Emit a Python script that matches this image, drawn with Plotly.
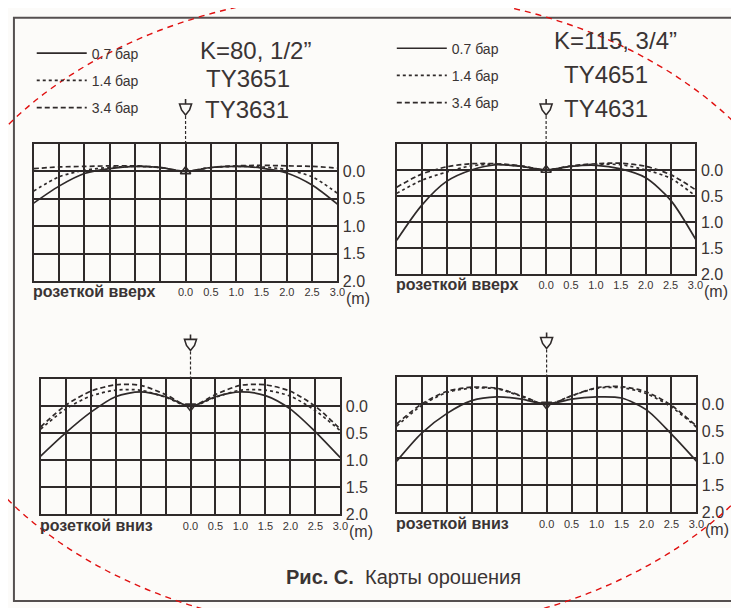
import plotly.graph_objects as go

# ---------------- data ----------------
x_m = [-3.0, -2.5, -2.0, -1.5, -1.0, -0.5, 0.0, 0.5, 1.0, 1.5, 2.0, 2.5, 3.0]
pressure_labels = ["0.7 бар", "1.4 бар", "3.4 бар"]

# K=80 upright (TY3651) – drop below deflector, m
ty3651_07 = [0.58, 0.27, 0.04, -0.05, -0.09, -0.07, 0.0, -0.07, -0.09, -0.06, 0.03, 0.25, 0.60]
ty3651_14 = [0.36, 0.10, -0.02, -0.07, -0.09, -0.07, 0.0, -0.07, -0.09, -0.08, -0.03, 0.10, 0.40]
ty3651_34 = [-0.05, -0.08, -0.09, -0.10, -0.10, -0.07, 0.0, -0.07, -0.10, -0.11, -0.10, -0.09, -0.06]

# K=115 upright (TY4651)
ty4651_07 = [1.35, 0.68, 0.22, 0.00, -0.10, -0.07, 0.0, -0.07, -0.09, -0.02, 0.15, 0.58, 1.33]
ty4651_14 = [0.45, 0.20, 0.04, -0.08, -0.11, -0.07, 0.0, -0.07, -0.11, -0.10, 0.00, 0.16, 0.50]
ty4651_34 = [0.33, 0.08, -0.06, -0.12, -0.12, -0.08, 0.0, -0.08, -0.12, -0.13, -0.07, 0.09, 0.38]

# K=80 pendent (TY3631)
ty3631_07 = [0.92, 0.49, 0.11, -0.18, -0.27, -0.18, 0.0, -0.18, -0.27, -0.20, 0.05, 0.47, 0.95]
ty3631_14 = [0.42, 0.05, -0.19, -0.30, -0.30, -0.17, 0.0, -0.17, -0.30, -0.30, -0.19, 0.08, 0.45]
ty3631_34 = [0.38, -0.02, -0.28, -0.40, -0.39, -0.22, 0.0, -0.22, -0.39, -0.40, -0.28, 0.00, 0.42]

# K=115 pendent (TY4631)
ty4631_07 = [1.05, 0.53, 0.17, -0.07, -0.14, -0.10, 0.0, -0.10, -0.14, -0.12, 0.10, 0.55, 1.05]
ty4631_14 = [0.40, 0.02, -0.22, -0.30, -0.29, -0.15, 0.0, -0.16, -0.30, -0.31, -0.20, 0.05, 0.42]
ty4631_34 = [0.36, -0.01, -0.24, -0.32, -0.30, -0.16, 0.0, -0.16, -0.31, -0.33, -0.23, 0.02, 0.40]

deflector_x = [0.0]
deflector_y = [0.0]

x_tickvals = [-3.0, -2.5, -2.0, -1.5, -1.0, -0.5, 0.0, 0.5, 1.0, 1.5, 2.0, 2.5, 3.0]
x_ticktext = ["", "", "", "", "", "", "0.0", "0.5", "1.0", "1.5", "2.0", "2.5", "3.0"]
y_tickvals = [-0.5, 0.0, 0.5, 1.0, 1.5, 2.0]
y_ticktext = ["", "0.0", "0.5", "1.0", "1.5", "2.0"]

# ---------------- layout helpers ----------------
W, H = 739, 608
INK = "#2f2a2a"
TXT = "#3a3434"
SANS = "Liberation Sans, Arial, sans-serif"


def px_x(v):
    return v / W


def px_y(v):
    return 1 - v / H


panels = [
    dict(key="", dom_x=(26, 333), dom_y=(138, 277), series=[ty3651_07, ty3651_14, ty3651_34],
         legend="legend", label="розеткой вверх", up=True),
    dict(key="2", dom_x=(393, 695), dom_y=(138, 270), series=[ty4651_07, ty4651_14, ty4651_34],
         legend="legend2", label="розеткой вверх", up=True),
    dict(key="3", dom_x=(33, 336), dom_y=(377, 514), series=[ty3631_07, ty3631_14, ty3631_34],
         legend=None, label="розеткой вниз", up=False),
    dict(key="4", dom_x=(393, 696), dom_y=(375, 512), series=[ty4631_07, ty4631_14, ty4631_34],
         legend=None, label="розеткой вниз", up=False),
]

dashes = ["solid", "dot", "5px,3px"]

fig = go.Figure()
layout = dict(
    width=W, height=H, autosize=False,
    margin=dict(l=0, r=0, t=0, b=0),
    paper_bgcolor="#fcfbf9", plot_bgcolor="#fcfbf9",
    showlegend=True,
    font=dict(family=SANS, color=TXT),
)
annotations = []
shapes = []

for p in panels:
    k = p["key"]
    xa = "x" + k
    ya = "y" + k
    for i, ys in enumerate(p["series"]):
        fig.add_trace(go.Scatter(
            x=x_m, y=ys, xaxis=xa, yaxis=ya, mode="lines",
            line=dict(color=INK, width=1.7, dash=dashes[i], shape="spline", smoothing=0.8),
            name=pressure_labels[i],
            showlegend=p["legend"] is not None,
            legend=p["legend"] if p["legend"] else "legend",
            legendgroup=f"g{k}{i}",
            hoverinfo="skip",
        ))
    fig.add_trace(go.Scatter(
        x=deflector_x, y=deflector_y, xaxis=xa, yaxis=ya, mode="markers",
        marker=dict(symbol="triangle-up-open" if p["up"] else "triangle-down-open",
                    size=9, color=INK, line=dict(width=1.6, color=INK)),
        showlegend=False, hoverinfo="skip",
    ))
    axis_common = dict(showgrid=True, gridcolor=INK, gridwidth=1.8, zeroline=False,
                       showline=True, mirror=True, linecolor=INK, linewidth=2.4,
                       ticks="", fixedrange=True)
    layout["xaxis" + k] = dict(
        axis_common, domain=[px_x(p["dom_x"][0]), px_x(p["dom_x"][1])],
        range=[-3, 3], tickmode="array", tickvals=x_tickvals, ticktext=x_ticktext,
        tickfont=dict(family=SANS, size=11, color=TXT), anchor=ya,
    )
    layout["yaxis" + k] = dict(
        axis_common, domain=[px_y(p["dom_y"][1]), px_y(p["dom_y"][0])],
        range=[2.0, -0.5], tickmode="array", tickvals=y_tickvals, ticktext=y_ticktext,
        side="right", tickfont=dict(family=SANS, size=16, color=TXT), anchor=xa,
    )
    # (m) unit
    annotations.append(dict(
        text="(m)", xref=xa + " domain", yref=ya + " domain", x=1, y=0,
        xanchor="left", yanchor="top", xshift=7, yshift=-7, showarrow=False,
        font=dict(family=SANS, size=16, color=TXT)))
    # under-label
    annotations.append(dict(
        text="<b>" + p["label"] + "</b>", xref="paper", yref="paper",
        x=px_x(p["dom_x"][0] - 3), y=px_y(p["dom_y"][1] + 11), xanchor="left", yanchor="middle",
        showarrow=False, font=dict(family=SANS, size=16, color=TXT)))
    # sprinkler icon + dashed stem above centre
    top = px_y(p["dom_y"][0])
    shapes.append(dict(type="line", xref=xa, yref="paper", xsizemode="pixel", ysizemode="pixel",
                       xanchor=0, yanchor=top, x0=0, x1=0, y0=0, y1=28,
                       line=dict(color=INK, width=1.2, dash="3px,2px")))
    shapes.append(dict(type="path", xref=xa, yref="paper", xsizemode="pixel", ysizemode="pixel",
                       xanchor=0, yanchor=top,
                       path="M0,45 L0,40 M-6,40 L6,40 L4,34 L0,29 L-4,34 Z",
                       line=dict(color=INK, width=1.6)))

# titles
title_font = dict(family=SANS, size=24, color=TXT)
for txt, cx, cy in [("K=80, 1/2”", 250, 43), ("TY3651", 243, 72), ("TY3631", 242, 103),
                    ("K=115, 3/4”", 614, 33), ("TY4651", 605, 67), ("TY4631", 605, 102)]:
    annotations.append(dict(text=txt, xref="paper", yref="paper", x=px_x(cx), y=px_y(cy),
                            xanchor="center", yanchor="middle", showarrow=False, font=title_font))

annotations.append(dict(text="<b>Рис. С.</b>  Карты орошения", xref="paper", yref="paper",
                        x=px_x(400), y=px_y(578), xanchor="center", yanchor="middle",
                        showarrow=False, font=dict(family=SANS, size=20, color=TXT)))

# outer frame and the red dashed ellipse seen on the reference
shapes.append(dict(type="rect", xref="paper", yref="paper", x0=px_x(6), x1=px_x(760),
                   y0=px_y(602), y1=px_y(10), line=dict(color="#555050", width=2), layer="below"))
shapes.append(dict(type="circle", xref="paper", yref="paper", x0=px_x(-86), x1=px_x(823),
                   y0=px_y(634), y1=px_y(-16), line=dict(color="#e01010", width=1.4, dash="6px,5px")))

legend_common = dict(bgcolor="rgba(0,0,0,0)", font=dict(family=SANS, size=14, color=TXT),
                     tracegroupgap=6, itemwidth=50, xanchor="left", yanchor="top",
                     itemclick=False, itemdoubleclick=False)
layout["legend"] = dict(legend_common, x=px_x(24), y=px_y(30))
layout["legend2"] = dict(legend_common, x=px_x(388), y=px_y(25))
layout["annotations"] = annotations
layout["shapes"] = shapes

fig.update_layout(**layout)
fig.write_html("out.html")
